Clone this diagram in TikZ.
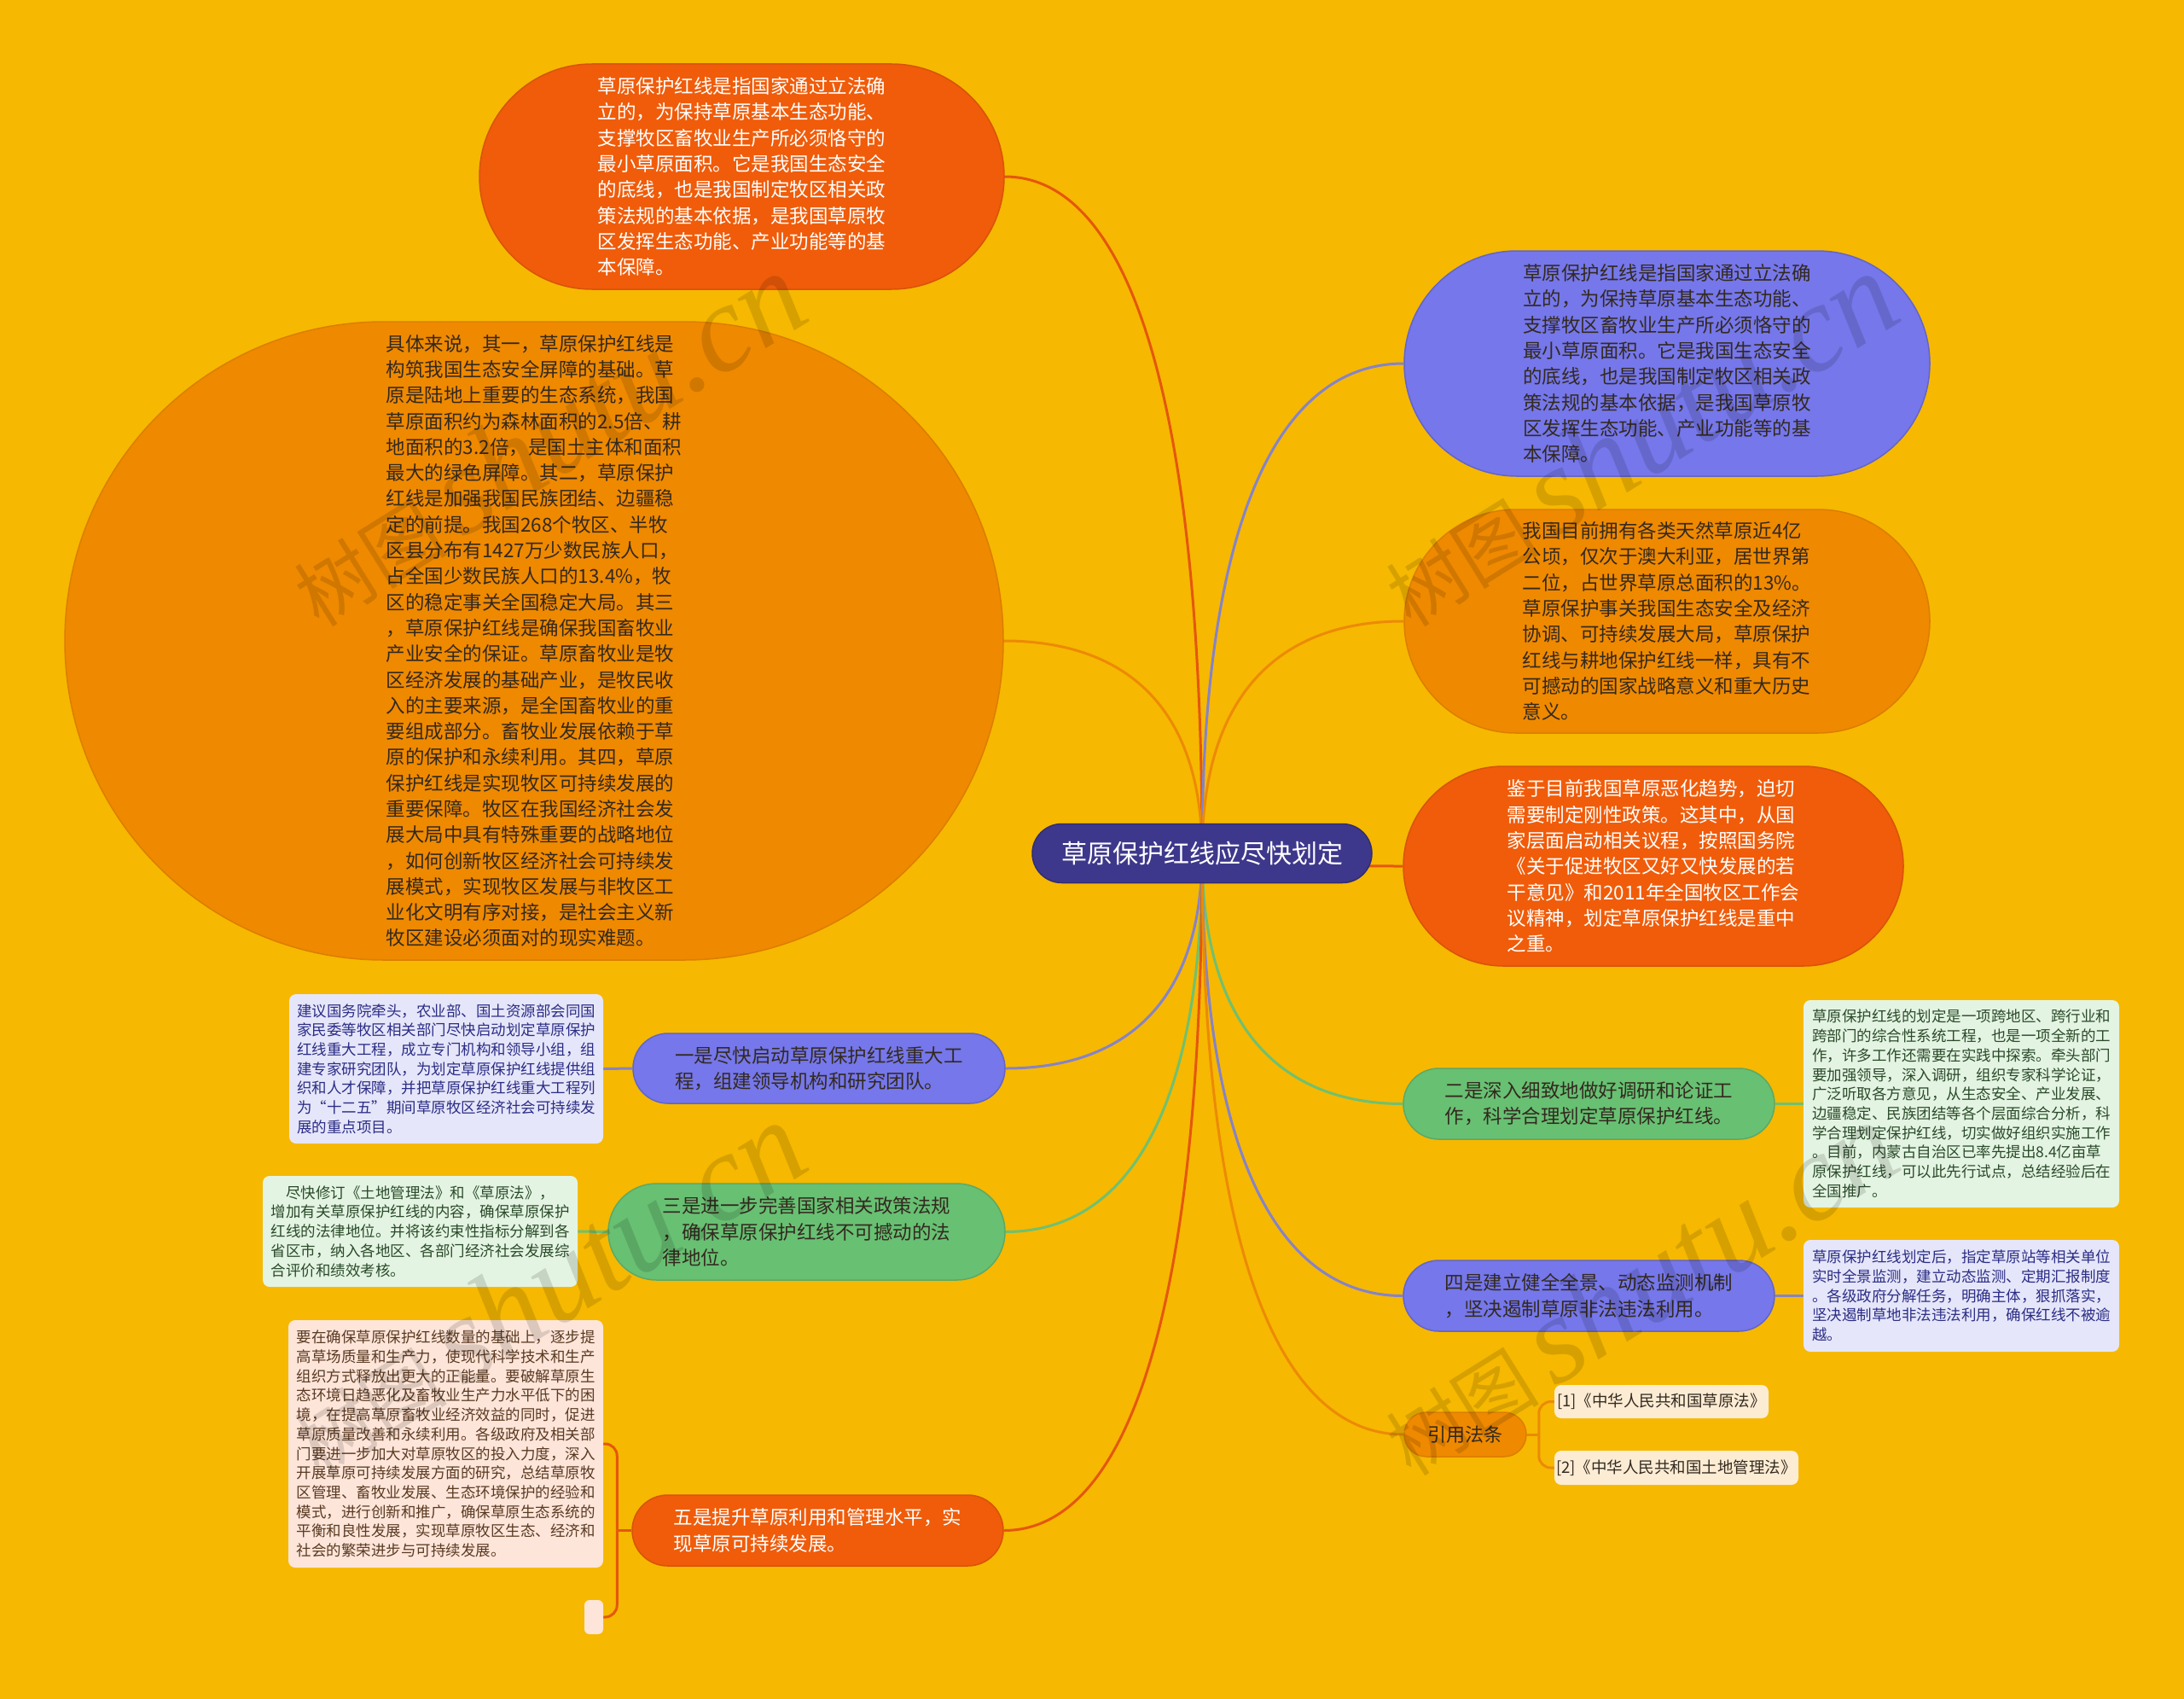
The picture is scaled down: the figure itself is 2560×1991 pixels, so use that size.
\documentclass[tikz,border=0pt]{standalone}
\usepackage{fontspec}
\setmainfont{Noto Sans CJK SC}
\newfontfamily\wmserif{Liberation Serif}
\usetikzlibrary{shapes.misc,calc}
\pgfdeclarelayer{back}\pgfdeclarelayer{bg}
\pgfsetlayers{back,bg,main}
\definecolor{cBg}{HTML}{F6B800}
\definecolor{cRed}{HTML}{F05C0A}
\definecolor{cOra}{HTML}{EF8900}
\definecolor{cBlu}{HTML}{7577EA}
\definecolor{cGrn}{HTML}{68C073}
\definecolor{cRoot}{HTML}{3E388C}
\definecolor{cLav}{HTML}{E6E6FA}
\definecolor{cLgr}{HTML}{E4F4E2}
\definecolor{cPea}{HTML}{FDE5D9}
\definecolor{cCre}{HTML}{FCECD4}
\definecolor{lRed}{HTML}{E4570E}
\definecolor{lOra}{HTML}{EC8A06}
\definecolor{lBlu}{HTML}{8583C8}
\definecolor{lGrn}{HTML}{70C070}
\definecolor{tDark}{HTML}{33291F}
\definecolor{tNavy}{HTML}{2B2D85}
\definecolor{tGreen}{HTML}{2A4A2A}
\definecolor{tBrown}{HTML}{5A3A22}
\newcommand\fmain{\fontsize{22.5pt}{30.3pt}\selectfont}
\newcommand\fleaf{\fontsize{17.5pt}{22.7pt}\selectfont}
\newcommand\froot{\fontsize{30pt}{36pt}\selectfont}
\newcommand\fcite{\fontsize{18.5pt}{22pt}\selectfont}
\newcommand\fhead{\fontsize{22pt}{26pt}\selectfont}
\newcommand\rbr[2]{\draw[lnk,#1] (#2) .. controls ($(#2)!0.6!(root.center |- #2)$) and ($(root.center)!0.7!(root.center |- #2)$) .. (root.center);}
\tikzset{
  stad/.style={rounded rectangle, inner xsep=0pt, inner ysep=3pt, align=left, line width=1.5pt, font=\fmain},
  leafbox/.style={rectangle, rounded corners=8pt, inner sep=0pt, align=left, font=\fleaf},
  lnk/.style={line width=3pt},
  wmark/.style={text=black, text opacity=0.13, rotate=32, inner sep=0pt}
}
\begin{document}
\begin{tikzpicture}[x=1pt,y=-1pt]
\begin{pgfonlayer}{back}
\fill[cBg] (0,0) rectangle (2560,1991);
\end{pgfonlayer}
\useasboundingbox (0,0) rectangle (2560,1991);

% root
\node[stad, fill=cRoot, draw=cRoot!80!black, text=white, font=\froot, minimum width=398pt, minimum height=69pt] (root) at (1409,1000) {草原保护红线应尽快划定};

% left upper
\node[stad, fill=cRed, draw=cRed!90!black, text=white, minimum width=615pt, minimum height=264pt] (tl) at (869.5,207) {草原保护红线是指国家通过立法确\\立的，为保持草原基本生态功能、\\支撑牧区畜牧业生产所必须恪守的\\最小草原面积。它是我国生态安全\\的底线，也是我国制定牧区相关政\\策法规的基本依据，是我国草原牧\\区发挥生态功能、产业功能等的基\\本保障。};

\node[stad, fill=cOra, draw=cOra!92!black, text=tDark, minimum width=1100pt, minimum height=748pt] (big) at (626,751) {具体来说，其一，草原保护红线是\\构筑我国生态安全屏障的基础。草\\原是陆地上重要的生态系统，我国\\草原面积约为森林面积的2.5倍、耕\\地面积的3.2倍，是国土主体和面积\\最大的绿色屏障。其二，草原保护\\红线是加强我国民族团结、边疆稳\\定的前提。我国268个牧区、半牧\\区县分布有1427万少数民族人口，\\占全国少数民族人口的13.4\%，牧\\区的稳定事关全国稳定大局。其三\\，草原保护红线是确保我国畜牧业\\产业安全的保证。草原畜牧业是牧\\区经济发展的基础产业，是牧民收\\入的主要来源，是全国畜牧业的重\\要组成部分。畜牧业发展依赖于草\\原的保护和永续利用。其四，草原\\保护红线是实现牧区可持续发展的\\重要保障。牧区在我国经济社会发\\展大局中具有特殊重要的战略地位\\，如何创新牧区经济社会可持续发\\展模式，实现牧区发展与非牧区工\\业化文明有序对接，是社会主义新\\牧区建设必须面对的现实难题。};

% right upper
\node[stad, fill=cBlu, draw=cBlu!85!black, text=tDark, minimum width=616pt, minimum height=264pt] (rb) at (1954,426) {草原保护红线是指国家通过立法确\\立的，为保持草原基本生态功能、\\支撑牧区畜牧业生产所必须恪守的\\最小草原面积。它是我国生态安全\\的底线，也是我国制定牧区相关政\\策法规的基本依据，是我国草原牧\\区发挥生态功能、产业功能等的基\\本保障。};

\node[stad, fill=cOra, draw=cOra!92!black, text=tDark, minimum width=616pt, minimum height=262pt] (ro) at (1954,728) {我国目前拥有各类天然草原近4亿\\公顷，仅次于澳大利亚，居世界第\\二位，占世界草原总面积的13\%。\\草原保护事关我国生态安全及经济\\协调、可持续发展大局，草原保护\\红线与耕地保护红线一样，具有不\\可撼动的国家战略意义和重大历史\\意义。};

\node[stad, fill=cRed, draw=cRed!90!black, text=white, minimum width=586pt, minimum height=234pt] (rr) at (1938,1015) {鉴于目前我国草原恶化趋势，迫切\\需要制定刚性政策。这其中，从国\\家层面启动相关议程，按照国务院\\《关于促进牧区又好又快发展的若\\干意见》和2011年全国牧区工作会\\议精神，划定草原保护红线是重中\\之重。};

% left lower
\node[stad, fill=cBlu, draw=cBlu!85!black, text=tDark, minimum width=436pt, minimum height=82pt] (n1) at (960,1252) {一是尽快启动草原保护红线重大工\\程，组建领导机构和研究团队。};
\node[leafbox, fill=cLav, text=tNavy, minimum width=368pt, minimum height=175pt] (l1) at (523,1252.5) {建议国务院牵头，农业部、国土资源部会同国\\家民委等牧区相关部门尽快启动划定草原保护\\红线重大工程，成立专门机构和领导小组，组\\建专家研究团队，为划定草原保护红线提供组\\织和人才保障，并把草原保护红线重大工程列\\为“十二五”期间草原牧区经济社会可持续发\\展的重点项目。};

\node[stad, fill=cGrn, draw=cGrn!88!black, text=tDark, minimum width=465pt, minimum height=113pt] (n3) at (945.5,1443.5) {三是进一步完善国家相关政策法规\\，确保草原保护红线不可撼动的法\\律地位。};
\node[leafbox, fill=cLgr, text=tGreen, minimum width=369pt, minimum height=130pt] (l3) at (492.5,1443) {\hspace*{1em}尽快修订《土地管理法》和《草原法》，\\增加有关草原保护红线的内容，确保草原保护\\红线的法律地位。并将该约束性指标分解到各\\省区市，纳入各地区、各部门经济社会发展综\\合评价和绩效考核。};

\node[stad, fill=cRed, draw=cRed!90!black, text=white, minimum width=435pt, minimum height=83pt] (n5) at (958.5,1793.5) {五是提升草原利用和管理水平，实\\现草原可持续发展。};
\node[leafbox, fill=cPea, text=tBrown, minimum width=369pt, minimum height=290pt] (l5) at (522.5,1692) {要在确保草原保护红线数量的基础上，逐步提\\高草场质量和生产力，使现代科学技术和生产\\组织方式释放出更大的正能量。要破解草原生\\态环境日趋恶化及畜牧业生产力水平低下的困\\境，在提高草原畜牧业经济效益的同时，促进\\草原质量改善和永续利用。各级政府及相关部\\门要进一步加大对草原牧区的投入力度，深入\\开展草原可持续发展方面的研究，总结草原牧\\区管理、畜牧业发展、生态环境保护的经验和\\模式，进行创新和推广，确保草原生态系统的\\平衡和良性发展，实现草原牧区生态、经济和\\社会的繁荣进步与可持续发展。};
\node[leafbox, fill=cPea, rounded corners=6pt, minimum width=22pt, minimum height=40pt] (l5b) at (696,1895) {};

% right lower
\node[stad, fill=cGrn, draw=cGrn!88!black, text=tDark, minimum width=435pt, minimum height=83pt] (n2) at (1862.5,1293.5) {二是深入细致地做好调研和论证工\\作，科学合理划定草原保护红线。};
\node[leafbox, fill=cLgr, text=tGreen, minimum width=370pt, minimum height=243pt] (l2) at (2299,1293.5) {草原保护红线的划定是一项跨地区、跨行业和\\跨部门的综合性系统工程，也是一项全新的工\\作，许多工作还需要在实践中探索。牵头部门\\要加强领导，深入调研，组织专家科学论证，\\广泛听取各方意见，从生态安全、产业发展、\\边疆稳定、民族团结等各个层面综合分析，科\\学合理划定保护红线，切实做好组织实施工作\\。目前，内蒙古自治区已率先提出8.4亿亩草\\原保护红线，可以此先行试点，总结经验后在\\全国推广。};

\node[stad, fill=cBlu, draw=cBlu!85!black, text=tDark, minimum width=435pt, minimum height=83pt] (n4) at (1862.5,1518.5) {四是建立健全全景、动态监测机制\\，坚决遏制草原非法违法利用。};
\node[leafbox, fill=cLav, text=tNavy, minimum width=370pt, minimum height=131pt] (l4) at (2299,1518.5) {草原保护红线划定后，指定草原站等相关单位\\实时全景监测，建立动态监测、定期汇报制度\\。各级政府分解任务，明确主体，狠抓落实，\\坚决遏制草地非法违法利用，确保红线不被逾\\越。};

\node[stad, fill=cOra, draw=cOra!92!black, text=tDark, font=\fhead, minimum width=143pt, minimum height=52pt] (cite) at (1717.5,1681) {引用法条};
\node[leafbox, fill=cCre, text=tDark, font=\fcite, minimum width=251pt, minimum height=39pt] (c1) at (1947.5,1642.5) {[1]《中华人民共和国草原法》};
\node[leafbox, fill=cCre, text=tDark, font=\fcite, minimum width=286pt, minimum height=40pt] (c2) at (1965,1720) {[2]《中华人民共和国土地管理法》};

% connectors
\begin{pgfonlayer}{bg}
\rbr{lRed}{tl.east}
\rbr{lOra}{big.east}
\rbr{lBlu}{rb.west}
\rbr{lOra}{ro.west}
\rbr{lRed}{rr.west}
\rbr{lBlu}{n1.east}
\rbr{lGrn}{n3.east}
\rbr{lRed}{n5.east}
\rbr{lGrn}{n2.west}
\rbr{lBlu}{n4.west}
\rbr{lOra}{cite.west}
\draw[lnk,lBlu] (n1.west) -- (l1.east);
\draw[lnk,lGrn] (n3.west) -- (l3.east);
\draw[lnk,lGrn] (n2.east) -- (l2.west);
\draw[lnk,lBlu] (n4.east) -- (l4.west);
\coordinate (j5) at ($(n5.west)+(-17,0)$);
\draw[lnk,lRed] (n5.west) -- (j5);
\draw[lnk,lRed,rounded corners=14pt] (j5) |- (l5.east);
\draw[lnk,lRed,rounded corners=14pt] (j5) |- (l5b.east);
\coordinate (jc) at ($(cite.east)+(14,0)$);
\draw[lnk,lOra] (cite.east) -- (jc);
\draw[lnk,lOra,rounded corners=14pt] (jc) |- (c1.west);
\draw[lnk,lOra,rounded corners=14pt] (jc) |- (c2.west);
\end{pgfonlayer}

% watermarks
\foreach \wx/\wy [count=\i] in {640/515,1920/515,640/1510,1920/1510}{
  \node[wmark] (wm\i) at (\wx,\wy) {\fontsize{90pt}{100pt}\selectfont 树图\hspace{18pt}{\wmserif\itshape\fontsize{145pt}{150pt}\selectfont shutu.cn}};
}
\end{tikzpicture}
\end{document}
